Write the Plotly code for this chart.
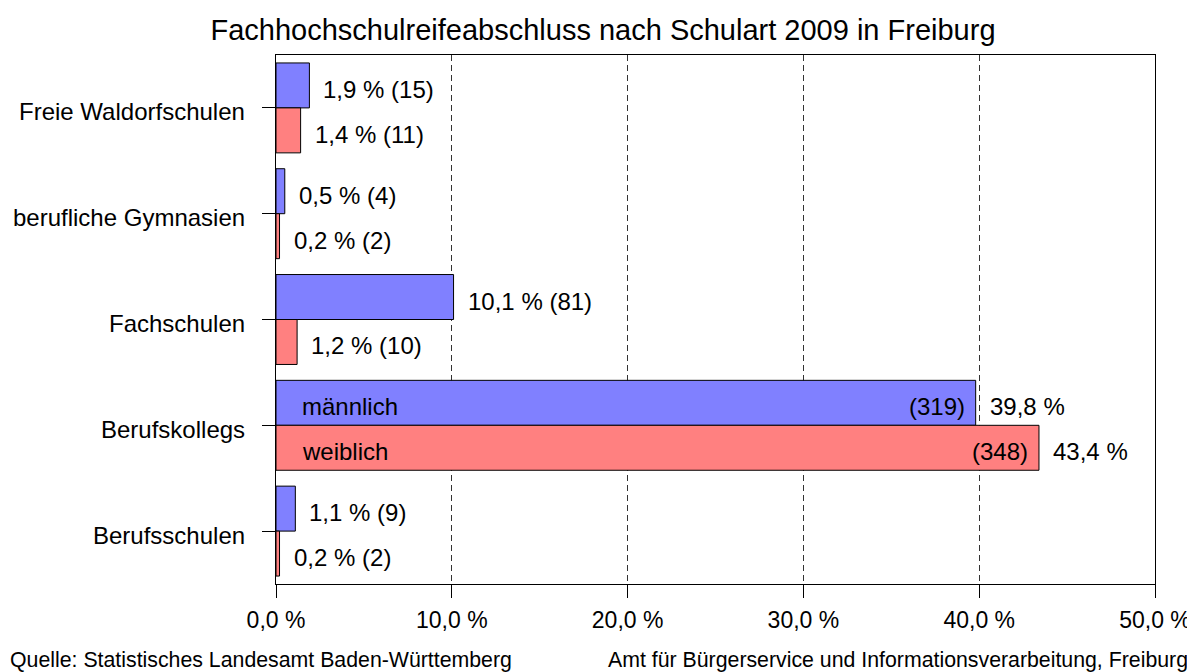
import plotly.graph_objects as go

categories = ["Freie Waldorfschulen", "berufliche Gymnasien", "Fachschulen", "Berufskollegs", "Berufsschulen"]
male_pct = [1.9, 0.5, 10.1, 39.8, 1.1]
female_pct = [1.4, 0.2, 1.2, 43.4, 0.2]
male_n = [15, 4, 81, 319, 9]
female_n = [11, 2, 10, 348, 2]
tick_vals = [0, 10, 20, 30, 40, 50]
tick_text = ["0,0 %", "10,0 %", "20,0 %", "30,0 %", "40,0 %", "50,0 %"]

FONT = "Liberation Sans, Arial, sans-serif"
BLUE = "#8080FF"
RED = "#FF8080"

def fmt(v):
    return f"{v:.1f}".replace(".", ",") + " %"

fig = go.Figure()
fig.add_trace(go.Bar(y=categories, x=male_pct, orientation="h", name="männlich",
                     marker=dict(color=BLUE, line=dict(color="black", width=1))))
fig.add_trace(go.Bar(y=categories, x=female_pct, orientation="h", name="weiblich",
                     marker=dict(color=RED, line=dict(color="black", width=1))))

bargap = 0.15
half = (1 - bargap) / 4
ann = []
big = max(range(len(categories)), key=lambda i: male_pct[i])
for i, cat in enumerate(categories):
    for vals, ns, off, lab in ((male_pct, male_n, -half, "männlich"), (female_pct, female_n, half, "weiblich")):
        y = i + off
        if i == big:
            ann.append(dict(x=vals[i], y=y, text=fmt(vals[i]), xanchor="left", xshift=12, showarrow=False))
            ann.append(dict(x=vals[i], y=y, text=f"({ns[i]})", xanchor="right", xshift=-9, showarrow=False))
            ann.append(dict(x=0, y=y, text=lab, xanchor="left", xshift=24, showarrow=False))
        else:
            ann.append(dict(x=vals[i], y=y, text=f"{fmt(vals[i])} ({ns[i]})", xanchor="left", xshift=12, showarrow=False))
for a in ann:
    a.update(xref="x", yref="y", font=dict(size=24, color="black", family=FONT), yshift=-4)

# category labels (drawn as annotations to match vertical placement)
for i, cat in enumerate(categories):
    ann.append(dict(xref="paper", yref="y", x=0, y=i, xanchor="right", yanchor="middle",
                    xshift=-29, yshift=-4, text=cat, showarrow=False,
                    font=dict(size=24, color="black", family=FONT)))

ann.append(dict(xref="paper", yref="paper", x=-0.3049, y=-0.1437, xanchor="left", yanchor="middle",
                text="Quelle: Statistisches Landesamt Baden-Württemberg", showarrow=False,
                font=dict(size=21.3, color="black", family=FONT)))
ann.append(dict(xref="paper", yref="paper", x=1.0398, y=-0.1437, xanchor="right", yanchor="middle",
                text="Amt für Bürgerservice und Informationsverarbeitung, Freiburg", showarrow=False,
                font=dict(size=21.3, color="black", family=FONT)))

fig.update_layout(
    width=1195, height=672,
    margin=dict(l=268, r=48, t=47, b=96, autoexpand=False),
    paper_bgcolor="white", plot_bgcolor="white",
    barmode="group", bargap=bargap, bargroupgap=0,
    showlegend=False,
    font=dict(family=FONT, size=24, color="black"),
    title=dict(text="Fachhochschulreifeabschluss nach Schulart 2009 in Freiburg",
               x=595 / 1195, xanchor="center", y=1 - 22 / 672, yanchor="middle",
               font=dict(size=29, family=FONT, color="black")),
    annotations=ann,
    xaxis=dict(range=[0, 50], tickvals=tick_vals, ticktext=tick_text, automargin=False,
               showgrid=True, gridcolor="#333", gridwidth=1, griddash="6px,4px",
               showline=True, linecolor="black", linewidth=1, mirror=True,
               ticks="outside", ticklen=13, tickcolor="black", zeroline=False,
               ticklabelstandoff=2,
               tickfont=dict(size=23, family=FONT, color="black")),
    yaxis=dict(autorange="reversed", showline=True, linecolor="black", linewidth=1, mirror=True,
               ticks="outside", ticklen=13, tickcolor="black", showgrid=False, automargin=False,
               showticklabels=False),
)

fig.write_html("out.html")
